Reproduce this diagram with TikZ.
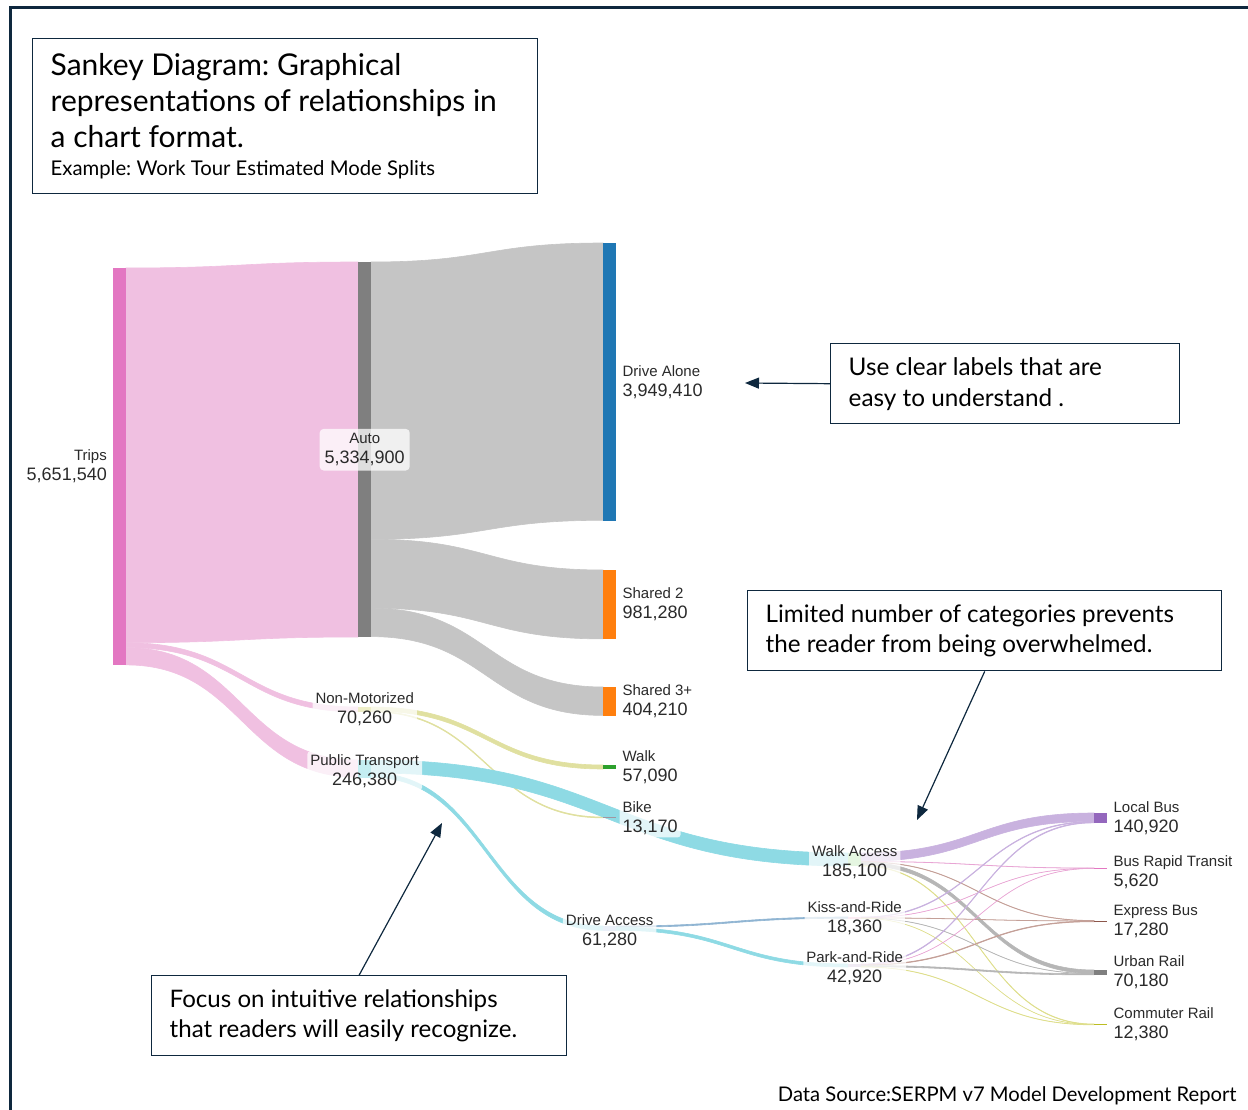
\documentclass[tikz,border=0pt]{standalone}
\usepackage{fontspec}
\setmainfont{Liberation Sans}
\newfontfamily\callfont{Lato}
\usetikzlibrary{arrows.meta,positioning}

\definecolor{navy}{RGB}{14,40,62}
\definecolor{labtext}{RGB}{42,42,42}
% node colours
\definecolor{tripsC}{RGB}{227,119,194}
\definecolor{autoC}{RGB}{127,127,127}
\definecolor{blueC}{RGB}{31,119,180}
\definecolor{orangeC}{RGB}{255,127,14}
\definecolor{greenC}{RGB}{44,160,44}
\definecolor{bikeC}{RGB}{160,150,160}
\definecolor{yelC}{RGB}{188,189,34}
\definecolor{cyanC}{RGB}{23,190,207}
\definecolor{ltgreenC}{RGB}{152,223,138}
\definecolor{ltblueC}{RGB}{174,199,232}
\definecolor{ltpinkC}{RGB}{247,182,210}
\definecolor{ltpurC}{RGB}{197,176,213}
\definecolor{purC}{RGB}{148,103,189}
\definecolor{brownC}{RGB}{140,86,75}
% link colours
\definecolor{pinkL}{RGB}{240,192,225}
\definecolor{grayL}{RGB}{197,197,197}
\definecolor{yelL}{RGB}{224,224,160}
\definecolor{cyanL}{RGB}{142,218,228}
\definecolor{blueL}{RGB}{143,180,210}
\definecolor{purL}{RGB}{201,178,223}
\definecolor{pinkT}{RGB}{232,165,212}
\definecolor{brownL}{RGB}{196,160,152}
\definecolor{grayT}{RGB}{182,182,182}
\definecolor{yelT}{RGB}{222,222,140}

% colour, x1, top1, bottom1, x2, top2, bottom2
\newcommand{\band}[7]{%
  \filldraw[link=#1] (#2,#3) .. controls ({(#2+#5)/2},#3) and ({(#2+#5)/2},#6) .. (#5,#6)
    -- (#5,#7) .. controls ({(#2+#5)/2},#7) and ({(#2+#5)/2},#4) .. (#2,#4) -- cycle;}
\newcommand{\twoline}[2]{#1\\{\fontsize{18}{20}\selectfont #2}}

\begin{document}
\begin{tikzpicture}[x=1pt,y=-1pt,
    bar/.style={fill=#1,draw=none,inner sep=0pt,minimum width=13pt,anchor=north west},
    link/.style={fill=#1,draw=#1,line width=0.6pt},
    lab/.style={font=\fontsize{15}{20}\selectfont,text=labtext,align=center,inner sep=3pt,
      rounded corners=3pt,fill=white,fill opacity=0.75,text opacity=1},
    rlab/.style={lab,align=left},
    callout/.style={draw=navy,line width=1.4pt,fill=white,anchor=north west,align=flush left,
      inner xsep=18pt,inner ysep=0pt,text=black},
    pointer/.style={draw=navy,line width=1.2pt,-{Triangle[length=14pt,width=11pt]}}]

\useasboundingbox (0,0) rectangle (1248,1110);
\draw[navy,line width=3pt] (10,1110) -- (10,8) -- (1248,8);

% flows
\band{pinkL}{126}{268}{642.7}{358}{262}{637}
\band{pinkL}{126}{642.7}{647.6}{358}{707}{711.9}
\band{pinkL}{126}{647.6}{664.9}{358}{760}{777.3}

\band{grayL}{371}{262}{539.3}{603}{243}{520.3}
\band{grayL}{371}{539.3}{608.2}{603}{570}{638.9}
\band{grayL}{371}{608.2}{636.6}{603}{687}{715.4}

\band{yelL}{371}{707}{711}{603}{765}{769}
\band{yelL}{371}{711}{711.9}{603}{817}{817.9}

\band{cyanL}{371}{760}{773}{848}{853}{866}
\band{cyanL}{371}{773}{777.3}{603}{926}{930.3}

\band{blueL}{616}{926}{927.3}{848}{917}{918.3}
\band{cyanL}{616}{927.3}{930.3}{848}{964}{967}

\band{purL}{861}{853}{861.42}{1094}{813}{821.42}
\band{pinkT}{861}{861.42}{861.63}{1094}{868}{868.21}
\band{brownL}{861}{861.63}{861.98}{1094}{920.5}{920.85}
\band{grayT}{861}{861.98}{865.49}{1094}{970}{973.51}
\band{yelT}{861}{865.49}{865.99}{1094}{1024}{1024.5}

\band{purL}{861}{917}{917.7}{1094}{821.42}{822.12}
\band{pinkT}{861}{917.7}{917.81}{1094}{868.21}{868.32}
\band{brownL}{861}{917.81}{918.02}{1094}{920.85}{921.06}
\band{grayT}{861}{918.02}{918.2}{1094}{973.51}{973.69}
\band{yelT}{861}{918.2}{918.29}{1094}{1024.5}{1024.6}

\band{purL}{861}{964}{964.77}{1094}{822.12}{822.89}
\band{pinkT}{861}{964.77}{964.85}{1094}{868.32}{868.4}
\band{brownL}{861}{964.85}{965.5}{1094}{921.06}{921.71}
\band{grayT}{861}{965.5}{966.74}{1094}{973.69}{974.93}
\band{yelT}{861}{966.74}{967.01}{1094}{1024.6}{1024.87}

% nodes
\node[bar=tripsC,minimum height=397pt] (trips) at (113,268) {};
\node[bar=autoC,minimum height=375pt] (auto) at (358,262) {};
\node[bar=yelC,minimum height=5pt] (nonmot) at (358,707) {};
\node[bar=cyanC,minimum height=17.3pt] (pubtr) at (358,760) {};
\node[bar=blueC,minimum height=277.3pt] (alone) at (603,243) {};
\node[bar=orangeC,minimum height=68.9pt] (shared2) at (603,570) {};
\node[bar=orangeC,minimum height=28.4pt] (shared3) at (603,687) {};
\node[bar=greenC,minimum height=4pt] (walk) at (603,765) {};
\node[bar=bikeC,minimum height=1.2pt] (bike) at (603,817) {};
\node[bar=ltblueC,minimum height=4.3pt] (dracc) at (603,926) {};
\node[bar=ltgreenC,minimum height=13pt] (wkacc) at (848,853) {};
\node[bar=ltpinkC,minimum height=1.3pt] (kissr) at (848,917) {};
\node[bar=ltpurC,minimum height=3pt] (parkr) at (848,964) {};
\node[bar=purC,minimum height=9.9pt] (lbus) at (1094,813) {};
\node[bar=tripsC,minimum height=1pt] (brt) at (1094,868) {};
\node[bar=brownC,minimum height=1.2pt] (expbus) at (1094,920.5) {};
\node[bar=autoC,minimum height=4.9pt] (urail) at (1094,970) {};
\node[bar=yelC,minimum height=1pt] (crail) at (1094,1024) {};

% labels
\node[lab,align=right,left=3pt of trips,fill=none] (tripsL) {\twoline{Trips}{5,651,540}};
\node[lab,inner xsep=5pt,inner ysep=4.5pt,rounded corners=4pt] (autoL) at (auto) {\twoline{Auto}{5,334,900}};
\node[lab] (nonmotL) at (nonmot) {\twoline{Non-Motorized}{70,260}};
\node[lab] (pubtrL) at ([yshift=-2pt]pubtr) {\twoline{Public Transport}{246,380}};
\node[rlab,right=3pt of alone] (aloneL) {\twoline{Drive Alone}{3,949,410}};
\node[rlab,right=3pt of shared2] (shared2L) {\twoline{Shared 2}{981,280}};
\node[rlab,right=3pt of shared3] (shared3L) {\twoline{Shared 3+}{404,210}};
\node[rlab,right=3pt of walk] (walkL) {\twoline{Walk}{57,090}};
\node[rlab,right=3pt of bike] (bikeL) {\twoline{Bike}{13,170}};
\node[lab] (draccL) at ([yshift=-3pt]dracc) {\twoline{Drive Access}{61,280}};
\node[lab] (wkaccL) at ([yshift=-3pt]wkacc) {\twoline{Walk Access}{185,100}};
\node[lab] (kissrL) at (kissr) {\twoline{Kiss-and-Ride}{18,360}};
\node[lab] (parkrL) at ([yshift=-3pt]parkr) {\twoline{Park-and-Ride}{42,920}};
\node[rlab,right=3pt of lbus] (lbusL) {\twoline{Local Bus}{140,920}};
\node[rlab,right=3pt of brt,yshift=-4pt] (brtL) {\twoline{Bus Rapid Transit}{5,620}};
\node[rlab,right=3pt of expbus] (expbusL) {\twoline{Express Bus}{17,280}};
\node[rlab,right=3pt of urail] (urailL) {\twoline{Urban Rail}{70,180}};
\node[rlab,right=3pt of crail] (crailL) {\twoline{Commuter Rail}{12,380}};

% call-outs
\node[callout,minimum width=505pt,minimum height=155pt,text width=469pt,
  font=\callfont\frenchspacing\fontsize{30}{36}\selectfont] (titlebox) at (32,38)
  {Sankey Diagram: Graphical\\representations of relationships in\\a chart format.\\[-8pt]
   {\fontsize{20.3}{23}\selectfont Example: Work Tour Estimated Mode Splits}};
\node[callout,minimum width=349pt,minimum height=80pt,text width=313pt,
  font=\callfont\frenchspacing\fontsize{24.3}{31}\selectfont] (clearbox) at (830,343)
  {Use clear labels that are\\easy to understand .};
\node[callout,minimum width=474pt,minimum height=80pt,text width=438pt,
  font=\callfont\frenchspacing\fontsize{24.2}{30}\selectfont] (limitbox) at (747,590)
  {Limited number of categories prevents\\the reader from being overwhelmed.};
\node[callout,minimum width=415pt,minimum height=80pt,text width=379pt,
  font=\callfont\frenchspacing\fontsize{24.1}{30}\selectfont] (focusbox) at (151,975)
  {Focus on intuitive relationships\\that readers will easily recognize.};

\coordinate (clearptr) at (745,383);
\coordinate (limitptr) at (917,820);
\coordinate (focusptr) at (442,823);
\draw[pointer] (clearbox.west) -- (clearptr);
\draw[pointer] (limitbox.south) -- (limitptr);
\draw[pointer] (focusbox.north) -- (focusptr);

\node[anchor=base east,font=\callfont\fontsize{20.2}{23}\selectfont] (source) at (1240,1101)
  {Data Source:SERPM v7 Model Development Report};

\end{tikzpicture}
\end{document}
